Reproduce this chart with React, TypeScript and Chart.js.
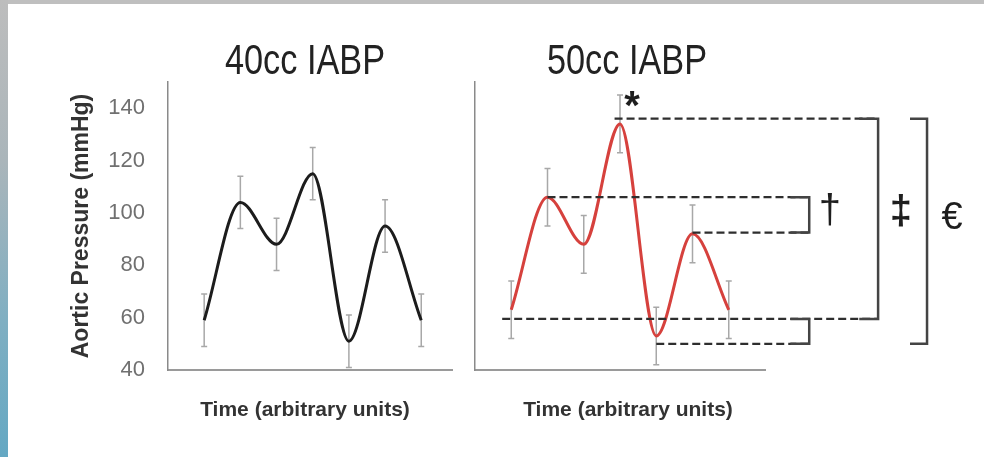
import React, { useEffect, useRef } from "react";
import { Chart, registerables } from "chart.js";

Chart.register(...registerables);

// ---------------- data ----------------
const TIME_POINTS = [0, 1, 2, 3, 4, 5, 6];
const PRESSURE_40CC = [59, 104, 88, 115, 51, 95, 59];
const ERROR_40CC = [10, 10, 10, 10, 10, 10, 10];
const PRESSURE_50CC = [63, 106, 88, 134, 53, 92, 63];
const ERROR_50CC = [11, 11, 11, 11, 11, 11, 11];
const Y_TICKS = [40, 60, 80, 100, 120, 140];
const Y_MIN = 40;
const Y_MAX = 150;
const PANEL_TITLES = ["40cc IABP", "50cc IABP"];
const Y_TITLE = "Aortic Pressure (mmHg)";
const X_TITLE = "Time (arbitrary units)";

// comparison lines on the 50cc panel (pressure level, from time, to time)
const DASH_LEVELS = [136, 106, 92.5, 59.5, 50];
const DASH_FROM = [2.85, 1.0, 5.0, -0.25, 4.0];
const DASH_TO = [10.12, 8.22, 8.22, 10.12, 8.22];
// brackets (time position, top level, bottom level, arm start)
const BRACKET_X = [8.22, 10.12, 8.22, 11.47];
const BRACKET_TOP = [106, 136, 59.5, 136];
const BRACKET_BOTTOM = [92.5, 59.5, 50, 50];
const BRACKET_ARM = [7.7, 9.6, 7.7, 11.0];
// significance symbols (text, time position, level)
const SYMBOLS = ["*", "\u2020", "\u2021", "\u20AC"];
const SYMBOL_X = [3.33, 8.79, 10.75, 12.16];
const SYMBOL_Y = [140, 100.5, 100, 98];

const FONT = "'Liberation Sans', Arial, Helvetica, sans-serif";

const errorBarPlugin = {
  id: "errorBars",
  beforeDatasetsDraw(chart: any) {
    const { ctx, scales } = chart;
    const xs = scales.x;
    const ys = scales.y;
    ctx.save();
    ctx.strokeStyle = "#a8a8a8";
    ctx.lineWidth = 1.5;
    chart.data.datasets.forEach((ds: any) => {
      const errs: number[] = ds.errorBars || [];
      ds.data.forEach((pt: any, i: number) => {
        const e = errs[i];
        if (e == null) return;
        const px = xs.getPixelForValue(pt.x);
        const top = ys.getPixelForValue(pt.y + e);
        const bot = ys.getPixelForValue(pt.y - e);
        ctx.beginPath();
        ctx.moveTo(px, top);
        ctx.lineTo(px, bot);
        ctx.moveTo(px - 3, top);
        ctx.lineTo(px + 3, top);
        ctx.moveTo(px - 3, bot);
        ctx.lineTo(px + 3, bot);
        ctx.stroke();
      });
    });
    ctx.restore();
  },
};

const panelTitlePlugin = {
  id: "panelTitle",
  afterDraw(chart: any, _args: any, opts: any) {
    if (!opts || !opts.text) return;
    const { ctx, chartArea } = chart;
    const mid = (chartArea.left + chartArea.right) / 2;
    ctx.save();
    ctx.font = `42px ${FONT}`;
    ctx.fillStyle = "#222";
    ctx.textAlign = "center";
    ctx.textBaseline = "alphabetic";
    ctx.fillText(opts.text, mid + (opts.dx || 0), 74, 160);
    ctx.font = `bold 21px ${FONT}`;
    ctx.fillStyle = "#333";
    ctx.textBaseline = "middle";
    ctx.fillText(X_TITLE, mid + (opts.xdx || 0), 410);
    ctx.restore();
  },
};

const comparisonPlugin = {
  id: "comparisons",
  afterDatasetsDraw(chart: any, _args: any, opts: any) {
    if (!opts || !opts.enabled) return;
    const { ctx, scales } = chart;
    const xs = scales.x;
    const ys = scales.y;
    ctx.save();
    ctx.strokeStyle = "#2e2e2e";
    ctx.lineWidth = 2.3;
    ctx.setLineDash([8, 4]);
    DASH_LEVELS.forEach((lv, i) => {
      const py = ys.getPixelForValue(lv);
      ctx.beginPath();
      ctx.moveTo(xs.getPixelForValue(DASH_FROM[i]), py);
      ctx.lineTo(xs.getPixelForValue(DASH_TO[i]), py);
      ctx.stroke();
    });
    ctx.setLineDash([]);
    ctx.strokeStyle = "#444";
    ctx.lineWidth = 2.5;
    BRACKET_X.forEach((bx, i) => {
      const px = xs.getPixelForValue(bx);
      const ax = xs.getPixelForValue(BRACKET_ARM[i]);
      const top = ys.getPixelForValue(BRACKET_TOP[i]);
      const bot = ys.getPixelForValue(BRACKET_BOTTOM[i]);
      ctx.beginPath();
      ctx.moveTo(ax, top);
      ctx.lineTo(px, top);
      ctx.lineTo(px, bot);
      ctx.lineTo(ax, bot);
      ctx.stroke();
    });
    ctx.fillStyle = "#1e1e1e";
    ctx.textAlign = "center";
    ctx.textBaseline = "middle";
    const fonts = [`bold 40px ${FONT}`, `40px ${FONT}`, `bold 40px ${FONT}`, `38px ${FONT}`];
    SYMBOLS.forEach((s, i) => {
      ctx.font = fonts[i];
      ctx.fillText(s, xs.getPixelForValue(SYMBOL_X[i]), ys.getPixelForValue(SYMBOL_Y[i]));
    });
    ctx.restore();
  },
};

function makeConfig(
  values: number[],
  errors: number[],
  color: string,
  xMax: number,
  yWidth: number,
  showYLabels: boolean,
  padRight: number,
  title: string,
  titleDx: number,
  xTitleDx: number,
  comparisons: boolean
): any {
  return {
    type: "line",
    data: {
      datasets: [
        {
          data: TIME_POINTS.map((t, i) => ({ x: t, y: values[i] })),
          errorBars: errors,
          borderColor: color,
          borderWidth: 3,
          pointRadius: 0,
          fill: false,
          cubicInterpolationMode: "monotone",
        },
      ],
    },
    plugins: [errorBarPlugin, panelTitlePlugin, comparisonPlugin],
    options: {
      animation: false,
      responsive: false,
      events: [],
      layout: { padding: { top: 82, right: padRight, left: 0, bottom: 0 } },
      plugins: {
        legend: { display: false },
        tooltip: { enabled: false },
        panelTitle: { text: title, dx: titleDx, xdx: xTitleDx },
        comparisons: { enabled: comparisons },
      },
      scales: {
        x: {
          type: "linear",
          min: -1,
          max: xMax,
          grid: { display: false, drawTicks: false },
          ticks: { display: false },
          border: { display: true, color: "#9a9a9a", width: 2 },
          title: { display: false },
          afterFit: (s: any) => {
            s.height = 87;
          },
        },
        y: {
          type: "linear",
          min: Y_MIN,
          max: Y_MAX,
          afterBuildTicks: (s: any) => {
            s.ticks = Y_TICKS.map((v) => ({ value: v }));
          },
          grid: { display: false, drawTicks: false },
          ticks: {
            display: showYLabels,
            color: "#707070",
            padding: 23,
            font: { family: FONT, size: 22 },
          },
          border: { display: true, color: "#8a8a8a", width: 1.5 },
          title: {
            display: showYLabels,
            text: Y_TITLE,
            color: "#333",
            font: { family: FONT, size: 23, weight: "bold" },
            padding: { top: 68, bottom: 0 },
          },
          afterFit: (s: any) => {
            s.width = yWidth;
          },
        },
      },
    },
  };
}

export default function App() {
  const leftRef = useRef<HTMLCanvasElement>(null);
  const rightRef = useRef<HTMLCanvasElement>(null);

  useEffect(() => {
    const charts: Chart[] = [];
    if (leftRef.current) {
      charts.push(
        new Chart(
          leftRef.current,
          makeConfig(PRESSURE_40CC, ERROR_40CC, "#1c1c1c", 6.85, 168, true, 10, PANEL_TITLES[0], -5, -5, false)
        )
      );
    }
    if (rightRef.current) {
      charts.push(
        new Chart(
          rightRef.current,
          makeConfig(PRESSURE_50CC, ERROR_50CC, "#d6413d", 7, 13, false, 219, PANEL_TITLES[1], 7, 8, true)
        )
      );
    }
    return () => charts.forEach((c) => c.destroy());
  }, []);

  return (
    <div
      style={{
        position: "absolute",
        left: 0,
        top: 0,
        width: 984,
        height: 457,
        background: "#ffffff",
        overflow: "hidden",
      }}
    >
      <div
        style={{ position: "absolute", left: 0, top: 0, width: 984, height: 4, background: "#bfbfbf" }}
      />
      <div
        style={{
          position: "absolute",
          left: 0,
          top: 0,
          width: 8,
          height: 457,
          background: "linear-gradient(to bottom, #bdbdbd 0%, #aab5ba 35%, #80afc2 70%, #64a8c3 100%)",
        }}
      />
      <canvas
        ref={leftRef}
        width={462}
        height={457}
        style={{ position: "absolute", left: 0, top: 0, width: 462, height: 457 }}
      />
      <canvas
        ref={rightRef}
        width={522}
        height={457}
        style={{ position: "absolute", left: 462, top: 0, width: 522, height: 457 }}
      />
    </div>
  );
}
